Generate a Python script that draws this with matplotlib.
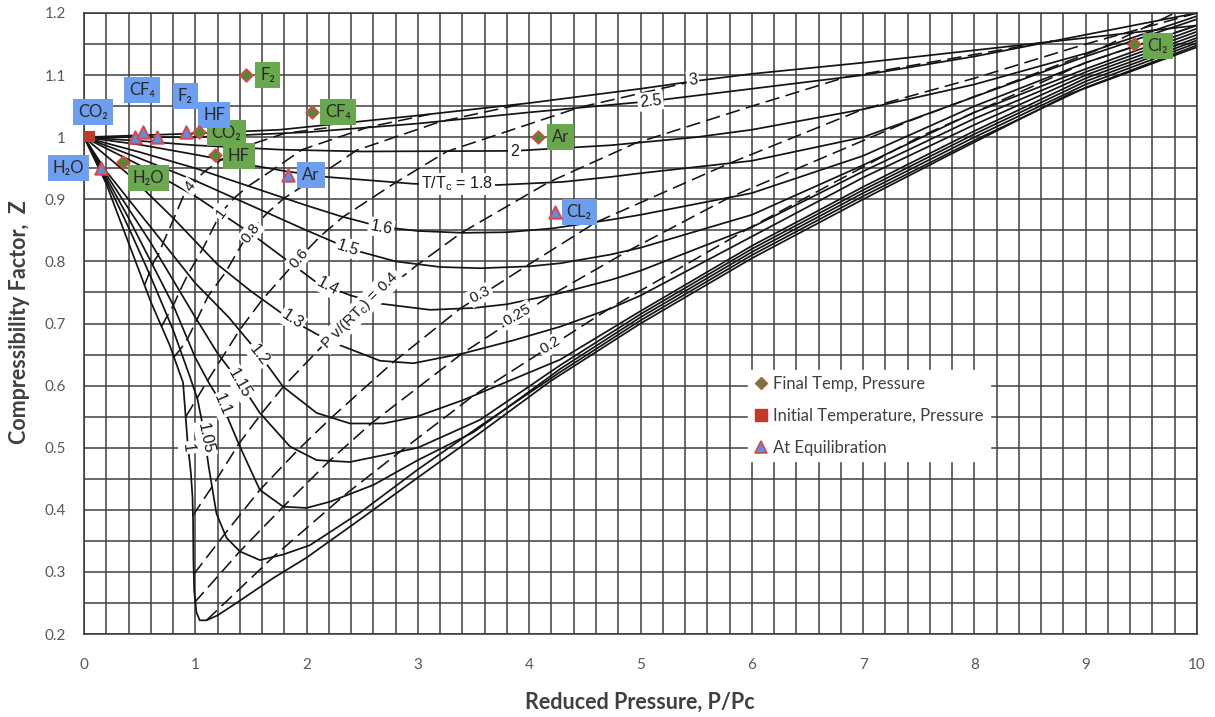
import matplotlib
matplotlib.use("Agg")
import matplotlib.pyplot as plt
from matplotlib.lines import Line2D
from matplotlib.ticker import MultipleLocator, FixedLocator, FixedFormatter

plt.rcParams['font.family'] = ['Lato', 'DejaVu Sans']
plt.rcParams['mathtext.default'] = 'regular'

# ---------------- isotherms (reduced temperature T/Tc) ----------------
pr_t100 = [0, 0.2, 0.4, 0.6, 0.77, 0.89, 0.93, 0.96, 0.975, 0.98, 0.983, 0.99, 1.01, 1.04, 1.1, 1.2,
           1.37, 1.7, 2.0, 2.5, 3.0, 3.56, 4.19, 5.0, 6.0, 7.0, 7.78, 8.86, 10]
z_t100 = [1.0, 0.925, 0.83, 0.735, 0.665, 0.605, 0.51, 0.46, 0.42, 0.38, 0.32, 0.27, 0.235, 0.222, 0.222, 0.23,
          0.25, 0.29, 0.323, 0.387, 0.452, 0.524, 0.607, 0.70, 0.805, 0.90, 0.972, 1.07, 1.145]
pr_t105 = [0, 0.2, 0.4, 0.6, 0.8, 0.95, 1.02, 1.07, 1.12, 1.19, 1.28, 1.4, 1.58, 1.79, 2.03, 2.5, 3.0,
           3.56, 4.28, 5.0, 6.0, 7.0, 8.0, 9.0, 10]
z_t105 = [1.0, 0.93, 0.855, 0.775, 0.69, 0.615, 0.578, 0.533, 0.47, 0.394, 0.355, 0.333, 0.319, 0.328, 0.343,
          0.398, 0.465, 0.535, 0.622, 0.705, 0.81, 0.905, 0.995, 1.08, 1.148]
pr_t110 = [0, 0.2, 0.4, 0.6, 0.8, 1.0, 1.12, 1.24, 1.4, 1.58, 1.79, 2.0, 2.21, 2.6, 3.0, 3.5, 4.28, 5.0,
           6.0, 7.0, 8.0, 9.0, 10]
z_t110 = [1.0, 0.935, 0.87, 0.80, 0.73, 0.645, 0.605, 0.57, 0.502, 0.432, 0.405, 0.403, 0.413, 0.44, 0.48,
          0.525, 0.627, 0.71, 0.815, 0.91, 1.0, 1.085, 1.152]
pr_t115 = [0, 0.2, 0.4, 0.6, 0.8, 1.0, 1.2, 1.4, 1.58, 1.85, 2.09, 2.39, 2.69, 3.0, 3.56, 4.28, 5.0, 6.0,
           7.0, 8.0, 9.0, 10]
z_t115 = [1.0, 0.94, 0.885, 0.83, 0.77, 0.71, 0.652, 0.605, 0.556, 0.502, 0.48, 0.477, 0.488, 0.50, 0.545,
          0.633, 0.715, 0.82, 0.915, 1.005, 1.09, 1.156]
pr_t120 = [0, 0.2, 0.4, 0.6, 0.8, 1.0, 1.3, 1.57, 1.79, 2.09, 2.39, 2.69, 2.99, 3.41, 4.28, 5.0, 6.0, 7.0,
           8.0, 9.0, 10]
z_t120 = [1.0, 0.945, 0.9, 0.855, 0.81, 0.765, 0.71, 0.652, 0.598, 0.556, 0.539, 0.539, 0.55, 0.577, 0.642,
          0.72, 0.825, 0.92, 1.01, 1.095, 1.16]
pr_t130 = [0, 0.4, 0.8, 1.2, 1.5, 1.85, 2.2, 2.66, 2.96, 3.41, 3.86, 4.28, 4.73, 5.0, 6.0, 7.0, 8.0, 9.0, 10]
z_t130 = [1.0, 0.94, 0.87, 0.795, 0.752, 0.707, 0.672, 0.64, 0.636, 0.652, 0.673, 0.695, 0.724, 0.745, 0.84,
          0.935, 1.02, 1.10, 1.165]
pr_t140 = [0, 0.5, 1.0, 1.5, 1.8, 2.09, 2.4, 2.66, 3.11, 3.5, 3.8, 4.28, 4.73, 5.0, 6.0, 7.0, 8.0, 9.0, 10]
z_t140 = [1.0, 0.955, 0.905, 0.845, 0.805, 0.766, 0.745, 0.732, 0.722, 0.725, 0.731, 0.749, 0.770, 0.785,
          0.855, 0.945, 1.03, 1.105, 1.17]
pr_t150 = [0, 0.5, 1.0, 1.5, 2.0, 2.39, 2.8, 3.2, 3.56, 4.0, 4.28, 4.73, 5.0, 6.0, 7.0, 8.0, 9.0, 10]
z_t150 = [1.0, 0.966, 0.93, 0.89, 0.85, 0.82, 0.80, 0.791, 0.789, 0.792, 0.797, 0.811, 0.822, 0.875, 0.955,
          1.04, 1.11, 1.175]
pr_t160 = [0, 0.5, 1.0, 1.5, 2.0, 2.3, 2.66, 3.0, 3.41, 3.8, 4.2, 4.73, 5.0, 6.0, 7.0, 8.0, 9.0, 10]
z_t160 = [1.0, 0.976, 0.95, 0.92, 0.89, 0.873, 0.856, 0.849, 0.846, 0.847, 0.853, 0.867, 0.875, 0.91, 0.97,
          1.05, 1.12, 1.18]
pr_t180 = [0, 0.5, 1.0, 1.5, 1.82, 2.18, 2.96, 3.71, 4.3, 4.73, 5.0, 6.0, 7.0, 8.0, 9.0, 10]
z_t180 = [1.0, 0.988, 0.972, 0.955, 0.945, 0.936, 0.925, 0.923, 0.928, 0.936, 0.942, 0.962, 1.0, 1.065, 1.13,
          1.19]
pr_t200 = [0, 0.5, 1.0, 1.76, 2.5, 3.87, 4.73, 5.5, 6.0, 7.0, 8.0, 9.0, 10]
z_t200 = [1.0, 0.994, 0.987, 0.98, 0.977, 0.978, 0.987, 1.0, 1.012, 1.045, 1.085, 1.135, 1.195]
pr_t250 = [0, 1, 2, 3, 4, 5.09, 6, 7, 8, 9, 10]
z_t250 = [1.0, 1.0, 1.008, 1.022, 1.04, 1.058, 1.078, 1.10, 1.13, 1.165, 1.2]
pr_t300 = [0, 1, 1.76, 3, 4, 5, 5.47, 6, 7, 8, 9, 10]
z_t300 = [1.0, 1.006, 1.012, 1.035, 1.055, 1.078, 1.09, 1.102, 1.12, 1.14, 1.16, 1.18]

# ---------------- dashed lines of constant P v/(R Tc) ----------------
pr_v020 = [1.1, 1.7, 2.35, 2.85, 3.5, 4.72, 6.0, 7.5, 9.0, 10.0]
z_v020 = [0.222, 0.324, 0.425, 0.495, 0.584, 0.724, 0.856, 1.0, 1.12, 1.18]
pr_v025 = [0.99, 1.4, 1.79, 2.2, 2.58, 3.4, 4.2, 4.9, 5.8, 7.4, 9.1, 9.8]
z_v025 = [0.25, 0.333, 0.405, 0.478, 0.539, 0.652, 0.746, 0.818, 0.903, 1.025, 1.14, 1.2]
pr_v030 = [0.985, 1.26, 1.58, 1.92, 2.22, 2.78, 3.38, 3.97, 4.6, 5.8, 7.0, 8.0, 9.0, 10.0]
z_v030 = [0.296, 0.36, 0.432, 0.496, 0.548, 0.638, 0.724, 0.792, 0.863, 0.958, 1.045, 1.095, 1.15, 1.2]
pr_v040 = [0.975, 1.15, 1.39, 1.59, 1.79, 2.19, 2.58, 3.0, 3.39, 4.17, 4.95, 6.0, 6.85, 8.7]
z_v040 = [0.39, 0.437, 0.506, 0.554, 0.598, 0.673, 0.736, 0.795, 0.846, 0.927, 0.99, 1.05, 1.097, 1.155]
pr_v060 = [0.915, 1.01, 1.1, 1.23, 1.4, 1.6, 1.88, 2.12, 2.33, 2.8, 3.26, 4.45, 5.47]
z_v060 = [0.55, 0.578, 0.605, 0.642, 0.69, 0.738, 0.795, 0.84, 0.872, 0.927, 0.977, 1.048, 1.09]
pr_v080 = [0.808, 0.864, 0.929, 1.014, 1.115, 1.27, 1.482, 1.647, 1.80, 2.11, 2.45, 3.2, 3.95]
z_v080 = [0.646, 0.658, 0.675, 0.706, 0.744, 0.782, 0.847, 0.878, 0.902, 0.938, 0.979, 1.025, 1.054]
pr_v100 = [0.695, 0.748, 0.802, 0.868, 0.936, 1.066, 1.228, 1.35, 1.474, 1.709, 1.96, 2.55, 3.11]
z_v100 = [0.695, 0.712, 0.729, 0.755, 0.78, 0.82, 0.878, 0.902, 0.921, 0.949, 0.98, 1.016, 1.037]
pr_v140 = [0.544, 0.586, 0.628, 0.666, 0.711, 0.807, 0.914, 0.997, 1.084, 1.236, 1.41, 1.80, 2.18]
z_v140 = [0.762, 0.781, 0.80, 0.81, 0.83, 0.869, 0.914, 0.93, 0.945, 0.964, 0.983, 1.006, 1.015]

# ---------------- inline curve labels ----------------
t_label_text = ["3", "2.5", "2", "T/T$_c$ = 1.8", "1.6", "1.5", "1.4", "1.3", "1.2", "1.15", "1.1",
                "1.05", "1"]
t_label_x = [5.47, 5.09, 3.87, 3.35, 2.67, 2.37, 2.19, 1.87, 1.57, 1.40, 1.24, 1.09, 0.93]
t_label_y = [1.092, 1.058, 0.977, 0.925, 0.854, 0.822, 0.760, 0.706, 0.650, 0.604, 0.569, 0.515, 0.50]
t_label_rot = [7, 6, 0, 0, -11, -18, -28, -33, -52, -60, -67, -78, -84]

v_label_text = ["0.2", "0.25", "0.3", "P v/(RT$_c$) = 0.4", "0.6", "0.8", "1", "4"]
v_label_x = [4.19, 3.89, 3.56, 2.48, 1.93, 1.50, 1.23, 0.95]
v_label_y = [0.665, 0.714, 0.746, 0.722, 0.805, 0.846, 0.878, 0.921]
v_label_rot = [32, 30, 27, 45, 50, 52, 52, 52]

# ---------------- experimental points ----------------
final_x = [1.46, 2.05, 4.08, 1.036, 1.18, 0.347, 9.43]
final_y = [1.100, 1.041, 1.001, 1.008, 0.971, 0.960, 1.150]
initial_x = [0.048]
initial_y = [1.002]
equil_x = [0.153, 0.458, 0.527, 0.653, 0.913, 1.83, 4.23]
equil_y = [0.950, 1.000, 1.009, 1.000, 1.009, 0.939, 0.880]

blue_text = ["CO\u2082", "CF\u2084", "F\u2082", "HF", "H\u2082O", "Ar", "CL\u2082"]
blue_x = [0.08, 0.52, 0.91, 1.17, -0.14, 2.04, 4.45]
blue_y = [1.041, 1.076, 1.067, 1.036, 0.950, 0.939, 0.879]
green_text = ["F\u2082", "CF\u2084", "Ar", "CO\u2082", "HF", "H\u2082O", "Cl\u2082"]
green_x = [1.65, 2.28, 4.28, 1.28, 1.39, 0.58, 9.65]
green_y = [1.100, 1.041, 1.000, 1.006, 0.970, 0.934, 1.147]

legend_labels = ["Final Temp, Pressure", "Initial Temperature, Pressure", "At Equilibration"]

x_ticks = [0, 1, 2, 3, 4, 5, 6, 7, 8, 9, 10]
x_tick_labels = ["0", "1", "2", "3", "4", "5", "6", "7", "8", "9", "10"]
y_ticks = [0.2, 0.3, 0.4, 0.5, 0.6, 0.7, 0.8, 0.9, 1.0, 1.1, 1.2]
y_tick_labels = ["0.2", "0.3", "0.4", "0.5", "0.6", "0.7", "0.8", "0.9", "1", "1.1", "1.2"]

# ---------------- drawing ----------------
W, H = 1215, 717
fig = plt.figure(figsize=(W / 100, H / 100), dpi=100)
ax = fig.add_axes([84 / W, 1 - 634 / H, (1197 - 84) / W, (634 - 13) / H])
ax.set_xlim(0, 10)
ax.set_ylim(0.2, 1.2)

ax.xaxis.set_major_locator(FixedLocator(x_ticks))
ax.xaxis.set_major_formatter(FixedFormatter(x_tick_labels))
ax.yaxis.set_major_locator(FixedLocator(y_ticks))
ax.yaxis.set_major_formatter(FixedFormatter(y_tick_labels))
ax.xaxis.set_minor_locator(MultipleLocator(0.2))
ax.yaxis.set_minor_locator(MultipleLocator(0.05))
ax.grid(which='both', color='#3f3f3f', lw=1.1)
ax.set_axisbelow(True)
ax.tick_params(which='both', length=0)
ax.tick_params(axis='x', pad=17, labelsize=11, labelcolor='#595959')
ax.tick_params(axis='y', pad=13, labelsize=11, labelcolor='#595959')
for s in ax.spines.values():
    s.set_color('#333333')
    s.set_linewidth(1.1)

isotherms = [(pr_t100, z_t100), (pr_t105, z_t105), (pr_t110, z_t110), (pr_t115, z_t115),
             (pr_t120, z_t120), (pr_t130, z_t130), (pr_t140, z_t140), (pr_t150, z_t150),
             (pr_t160, z_t160), (pr_t180, z_t180), (pr_t200, z_t200), (pr_t250, z_t250),
             (pr_t300, z_t300)]
for px, pz in isotherms:
    ax.plot(px, pz, color='#141414', lw=1.25, zorder=2, solid_joinstyle='round')

vlines = [(pr_v020, z_v020), (pr_v025, z_v025), (pr_v030, z_v030), (pr_v040, z_v040),
          (pr_v060, z_v060), (pr_v080, z_v080), (pr_v100, z_v100), (pr_v140, z_v140)]
for px, pz in vlines:
    ax.plot(px, pz, color='#141414', lw=1.15, zorder=2, dashes=(9, 4))

lab_font = ['Liberation Sans', 'DejaVu Sans']
for t, x, y, r in zip(t_label_text, t_label_x, t_label_y, t_label_rot):
    ax.text(x, y, t, rotation=r, rotation_mode='anchor', ha='center', va='center', fontsize=11.5,
            family=lab_font, color='#1a1a1a', zorder=3,
            bbox=dict(boxstyle='square,pad=0.12', fc='white', ec='none'))
for t, x, y, r in zip(v_label_text, v_label_x, v_label_y, v_label_rot):
    ax.text(x, y, t, rotation=r, rotation_mode='anchor', ha='center', va='center', fontsize=11,
            family=lab_font, color='#1a1a1a', zorder=3,
            bbox=dict(boxstyle='square,pad=0.12', fc='white', ec='none'))

green_c = '#6aa84f'
blue_c = '#6d9ef0'
for t, x, y in zip(green_text, green_x, green_y):
    ax.text(x, y, t, ha='center', va='center', fontsize=12, color='#2a2a2a', zorder=4,
            bbox=dict(boxstyle='square,pad=0.3', fc=green_c, ec='none'))
for t, x, y in zip(blue_text, blue_x, blue_y):
    ax.text(x, y, t, ha='center', va='center', fontsize=12, color='#2a2a2a', zorder=4.5,
            clip_on=False, bbox=dict(boxstyle='square,pad=0.3', fc=blue_c, ec='none'))

ax.scatter(final_x, final_y, marker='D', s=42, facecolor='#4f8a35', edgecolor='#e04545',
           linewidth=1.2, zorder=6)
ax.scatter(initial_x, initial_y, marker='s', s=60, facecolor='#c0392b', edgecolor='#c0392b',
           linewidth=0.8, zorder=6)
ax.scatter(equil_x, equil_y, marker='^', s=80, facecolor='#5b8fe6', edgecolor='#e04545',
           linewidth=1.4, zorder=6)

handles = [
    Line2D([], [], ls='none', marker='D', markersize=6, markerfacecolor='#4f8a35',
           markeredgecolor='#e04545', markeredgewidth=1.0),
    Line2D([], [], ls='none', marker='s', markersize=9, markerfacecolor='#c0392b',
           markeredgecolor='#c0392b'),
    Line2D([], [], ls='none', marker='^', markersize=9, markerfacecolor='#5b8fe6',
           markeredgecolor='#e04545', markeredgewidth=1.2),
]
leg = ax.legend(handles, legend_labels, loc='upper left', bbox_to_anchor=(0.597, 0.425),
                borderaxespad=0, frameon=True, fancybox=False, framealpha=1, facecolor='white',
                edgecolor='white', fontsize=12, labelcolor='#404040', labelspacing=0.95,
                handlelength=0.8, handletextpad=0.35, borderpad=0.35)
leg.set_zorder(10)

fig.text(640 / W, 1 - 702 / H, "Reduced Pressure, P/Pc", ha='center', va='center', fontsize=15.5,
         fontweight='bold', color='#404040')
fig.text(20 / W, 1 - 322 / H, "Compressibility Factor,  Z", ha='center', va='center',
         rotation=90, fontsize=15.5, fontweight='bold', color='#404040')

fig.savefig("out.png", dpi=100, facecolor='white')
